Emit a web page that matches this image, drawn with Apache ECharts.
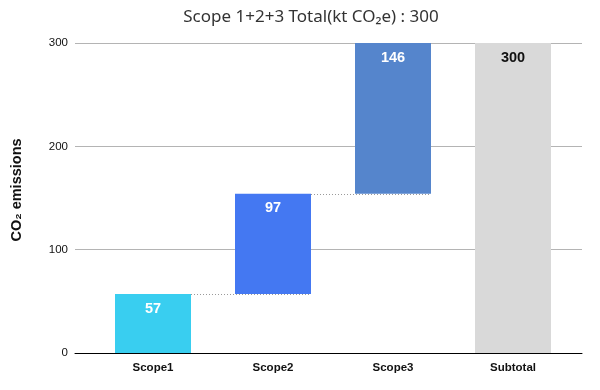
<!DOCTYPE html>
<html><head><meta charset="utf-8">
<script src="https://cdn.jsdelivr.net/npm/echarts@6/dist/echarts.min.js"></script>
<style>html,body{margin:0;padding:0;background:#fff}#c{width:600px;height:390px}</style>
</head><body><div id="c"></div>
<script>
const categories = ['Scope1', 'Scope2', 'Scope3', 'Subtotal'];
const values = [57, 97, 146, 300];
const colors = ['#39CEF0', '#4478F2', '#5585CC', '#D9D9D9'];
const labelColors = ['#fff', '#fff', '#fff', '#111'];
const yTicks = [0, 100, 200, 300];
const titleText = 'Scope 1+2+3 Total(kt CO\u2082e) : 300';
const yName = 'CO\u2082 emissions';

// base (invisible) offsets for waterfall
const bases = [];
let acc = 0;
for (let i = 0; i < values.length; i++) {
  if (i === values.length - 1) { bases.push(0); }
  else { bases.push(acc); acc += values[i]; }
}
const connectors = [];
for (let i = 0; i < values.length - 2; i++) connectors.push([i, bases[i] + values[i]]);

const FONT = '"Liberation Sans", Arial, sans-serif';
const chart = echarts.init(document.getElementById('c'), null, {renderer: 'canvas'});
const BAR_W = 76;
chart.setOption({
  animation: false,
  title: {text: titleText, left: 306, top: 4, textAlign: 'center',
    textStyle: {fontFamily: '"Noto Sans", sans-serif', fontWeight: 'normal', fontSize: 17, color: '#333'}},
  graphic: [{type: 'text', x: 17, y: 190, rotation: Math.PI / 2,
    style: {text: yName, fill: '#111', font: 'bold 14.5px "Liberation Sans", Arial, sans-serif',
      textAlign: 'center', textVerticalAlign: 'middle'}}],
  grid: [
    {left: 75, right: 18, top: 43, bottom: 37},
    {left: 93, right: 27, top: 43, bottom: 37}
  ],
  xAxis: [
    {gridIndex: 0, type: 'value', min: 0, max: 1, show: true,
      axisLine: {show: true, onZero: false, lineStyle: {color: '#000', width: 1}},
      axisTick: {show: false}, axisLabel: {show: false}, splitLine: {show: false}},
    {gridIndex: 1, type: 'category', data: categories,
      axisLine: {show: false}, axisTick: {show: false},
      axisLabel: {color: '#111', fontFamily: FONT, fontWeight: 'bold', fontSize: 11.5, margin: 9}}
  ],
  yAxis: [
    {gridIndex: 0, type: 'value', min: 0, max: 300, interval: 100,
      axisLine: {show: false}, axisTick: {show: false},
      axisLabel: {color: '#111', fontFamily: FONT, fontSize: 11.5, margin: 7,
        formatter: v => yTicks.includes(v) ? String(v) : ''},
      splitLine: {lineStyle: {color: '#b4b4b4', width: 1}}},
    {gridIndex: 1, type: 'value', min: 0, max: 300, interval: 100, show: false, splitLine: {show: false}}
  ],
  series: [
    {type: 'bar', xAxisIndex: 1, yAxisIndex: 1, stack: 'w', barWidth: BAR_W,
      itemStyle: {color: 'transparent'}, data: bases, silent: true},
    {type: 'bar', xAxisIndex: 1, yAxisIndex: 1, stack: 'w', barWidth: BAR_W,
      data: values.map((v, i) => ({value: v, itemStyle: {color: colors[i]},
        label: {color: labelColors[i]}})),
      label: {show: true, position: 'insideTop', distance: 7,
        fontFamily: FONT, fontWeight: 'bold', fontSize: 14.5}},
    {type: 'custom', xAxisIndex: 1, yAxisIndex: 1, z: 5, data: connectors,
      renderItem: function (params, api) {
        const i = api.value(0), v = api.value(1);
        const p1 = api.coord([i, v]);
        const p2 = api.coord([i + 1, v]);
        const hw = BAR_W / 2;
        return {type: 'line', shape: {x1: p1[0] + hw, y1: Math.round(p1[1]) + 0.5, x2: p2[0] + hw, y2: Math.round(p1[1]) + 0.5},
          style: {stroke: '#9a9a9a', lineWidth: 1, lineDash: [1, 2]}};
      }}
  ]
});
</script></body></html>
